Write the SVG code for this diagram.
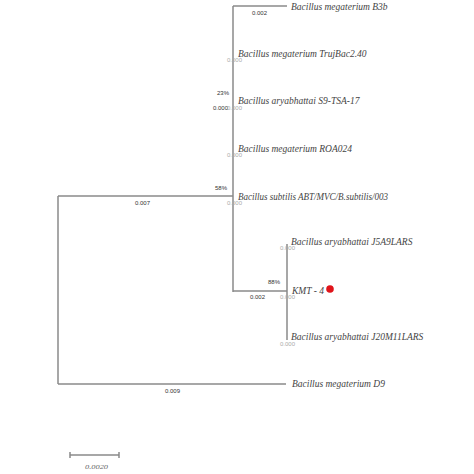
<svg xmlns="http://www.w3.org/2000/svg" width="474" height="474" viewBox="0 0 474 474">
<style>
.br{stroke:#8a8a8a;stroke-width:1.5;fill:none}
.tx{font-family:"Liberation Serif",serif;font-style:italic;font-size:9.5px;fill:#444}
.bl{font-family:"Liberation Sans",sans-serif;font-size:6px;fill:#333}
.z{font-family:"Liberation Sans",sans-serif;font-size:6px;fill:#aaa}
</style>
<rect width="474" height="474" fill="#fff"/>
<g id="connectors">
<path class="br" d="M58,196 V384 M58,196 H233 M58,384 H286"/>
<path class="br" d="M233,6 V292 M233,6 H287"/>
<path class="br" d="M233,291 H287 M287,244 V340"/>
</g>
<g id="scale">
<path class="br" stroke-width="1" d="M70,455 H119 M70,452 V458 M119,452 V458"/>
<text class="tx" x="85" y="469" textLength="23" lengthAdjust="spacingAndGlyphs" style="font-size:6.5px;fill:#666">0.0020</text>
</g>
<g id="leaf-b3b"><text class="tx" x="291" y="10">Bacillus megaterium B3b</text><text class="bl" x="252" y="15">0.002</text></g>
<g id="leaf-trujbac"><text class="tx" x="238" y="57">Bacillus megaterium TrujBac2.40</text><text class="z" x="227" y="62">0.000</text></g>
<g id="node-23"><text class="bl" x="217" y="95">23%</text><text class="bl" x="213" y="110">0.000</text></g>
<g id="leaf-s9"><text class="tx" x="238" y="104">Bacillus aryabhattai S9-TSA-17</text><text class="z" x="227" y="110">0.000</text></g>
<g id="leaf-roa"><text class="tx" x="238" y="152">Bacillus megaterium ROA024</text><text class="z" x="227" y="157">0.000</text></g>
<g id="node-58"><text class="bl" x="215" y="190">58%</text></g>
<g id="leaf-subtilis"><text class="tx" x="238" y="200" textLength="150" lengthAdjust="spacingAndGlyphs">Bacillus subtilis ABT/MVC/B.subtilis/003</text><text class="z" x="227" y="205">0.000</text></g>
<g id="edge-007"><text class="bl" x="135" y="205">0.007</text></g>
<g id="leaf-j5a9"><text class="tx" x="291" y="245">Bacillus aryabhattai J5A9LARS</text><text class="z" x="280" y="250">0.000</text></g>
<g id="node-88"><text class="bl" x="268" y="284">88%</text><text class="bl" x="250" y="299">0.002</text><text class="z" x="280" y="299">0.000</text></g>
<g id="leaf-kmt"><text class="tx" x="292" y="294">KMT - 4</text><circle cx="330" cy="289" r="3.8" fill="#e0141a"/></g>
<g id="leaf-j20"><text class="tx" x="291" y="340">Bacillus aryabhattai J20M11LARS</text><text class="z" x="280" y="346">0.000</text></g>
<g id="leaf-d9"><text class="tx" x="292" y="387">Bacillus megaterium D9</text><text class="bl" x="165" y="393">0.009</text></g>
</svg>
